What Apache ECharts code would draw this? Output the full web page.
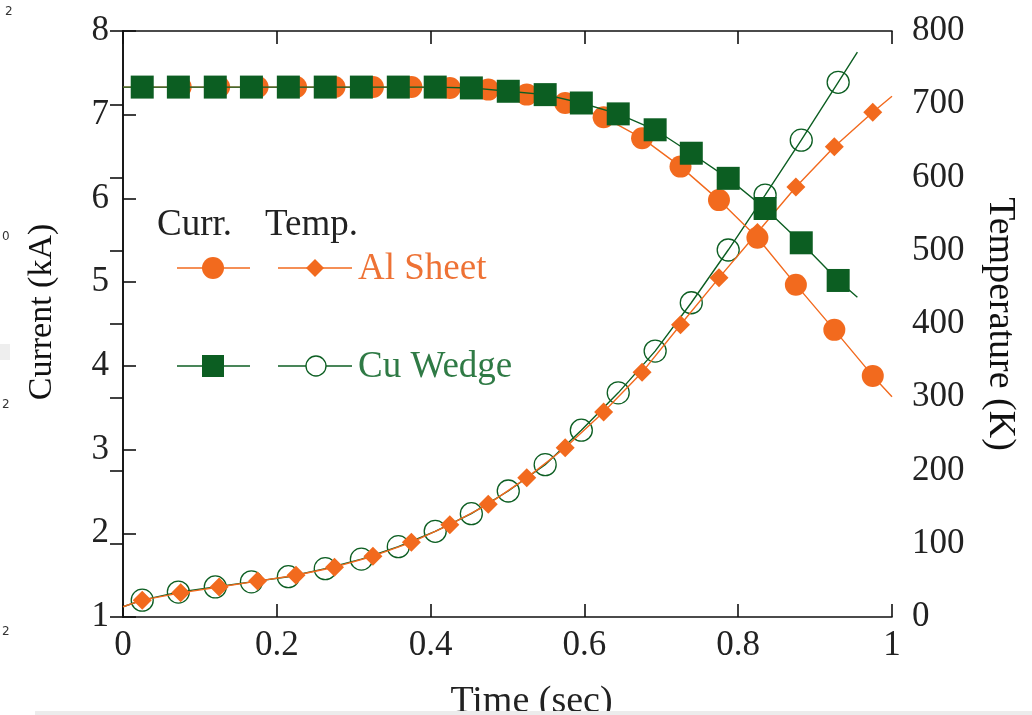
<!DOCTYPE html>
<html>
<head>
<meta charset="utf-8">
<script src="https://cdn.jsdelivr.net/npm/echarts@6/dist/echarts.min.js"></script>
<style>html,body{margin:0;padding:0;background:#fff;}#c{width:1032px;height:715px;}</style>
</head>
<body>
<div id="c"></div>
<script>
// ---- data ----
const alTime = [0.025,0.075,0.125,0.175,0.225,0.275,0.325,0.375,0.425,0.475,0.525,0.575,0.625,0.675,0.725,0.775,0.825,0.875,0.925,0.975];
const alCurrent = [7.33,7.33,7.33,7.33,7.33,7.33,7.33,7.33,7.32,7.30,7.24,7.14,6.97,6.72,6.38,5.98,5.53,4.97,4.43,3.88];
const alTemp = [23,33,41,49,57,68,83,102,126,154,190,231,280,334,399,463,525,587,642,689];
const alCurrentEnds = [[0,7.33],[1,3.63]];
const alTempEnds = [[0,14],[1,711]];

const cuTime = [0.025,0.072,0.12,0.167,0.215,0.263,0.31,0.358,0.406,0.453,0.501,0.549,0.596,0.644,0.692,0.739,0.787,0.835,0.882,0.93];
const cuCurrent = [7.33,7.33,7.33,7.33,7.33,7.33,7.33,7.33,7.33,7.32,7.28,7.24,7.14,7.01,6.82,6.54,6.24,5.88,5.47,5.02];
const cuTemp = [23,34,41,48,55,66,79,96,117,141,172,208,255,306,363,429,501,576,651,730];
const cuCurrentEnds = [[0,7.33],[0.955,4.82]];
const cuTempEnds = [[0,14],[0.955,771]];

const xTicks = {min:0, max:1, interval:0.2};
const yLeftTicks = {min:1, max:8, interval:1};
const yRightTicks = {min:0, max:800, interval:100};

const ORANGE = '#F26A1E';
const GREEN = '#0C5E22';
const SERIF = '"Liberation Serif","DejaVu Serif",serif';

function build(ts, vs, ends){
  const d = [{value: ends[0], symbol:'none'}];
  ts.forEach((t,i)=>d.push([t, vs[i]]));
  d.push({value: ends[1], symbol:'none'});
  return d;
}

const chart = echarts.init(document.getElementById('c'), null, {renderer:'canvas'});
const axisLineStyle = {color:'#111', width:1.6};
const labelStyle = {fontFamily:SERIF, fontSize:35, color:'#222'};

chart.setOption({
  animation:false,
  backgroundColor:'#fff',
  grid:{left:123, right:140, top:31, bottom:98, containLabel:false, outerBoundsMode:'none'},
  xAxis:[{
    type:'value', position:'bottom', min:xTicks.min, max:xTicks.max, interval:xTicks.interval,
    axisLine:{show:true, lineStyle:axisLineStyle},
    axisTick:{show:true, inside:true, length:13, lineStyle:axisLineStyle},
    axisLabel:{...labelStyle, margin:11},
    splitLine:{show:false},
    name:'Time (sec)', nameLocation:'middle', nameGap:66,
    nameTextStyle:{fontFamily:SERIF, fontSize:38, color:'#222', padding:[0,0,0,48]}
  },{
    type:'value', position:'top', min:xTicks.min, max:xTicks.max, interval:xTicks.interval,
    axisLine:{show:true, lineStyle:axisLineStyle},
    axisTick:{show:true, inside:true, length:13, lineStyle:axisLineStyle},
    axisLabel:{show:false}, splitLine:{show:false}
  }],
  yAxis:[{
    type:'value', position:'left', min:yLeftTicks.min, max:yLeftTicks.max, interval:yLeftTicks.interval,
    axisLine:{show:true, lineStyle:axisLineStyle},
    axisTick:{show:true, inside:true, length:13, lineStyle:axisLineStyle},
    axisLabel:{...labelStyle, margin:14},
    splitLine:{show:false},
    name:'Current (kA)', nameLocation:'middle', nameGap:64, nameRotate:90,
    nameTextStyle:{fontFamily:SERIF, fontSize:34, color:'#111', padding:[0,0,0,24]}
  },{
    type:'value', position:'right', min:yRightTicks.min, max:yRightTicks.max, interval:yRightTicks.interval,
    axisLine:{show:true, lineStyle:axisLineStyle},
    axisTick:{show:true, inside:true, length:13, lineStyle:axisLineStyle},
    axisLabel:{...labelStyle, margin:20},
    splitLine:{show:false},
    name:'Temperature (K)', nameLocation:'middle', nameGap:89, nameRotate:-90,
    nameTextStyle:{fontFamily:SERIF, fontSize:38, color:'#111'}
  }],
  series:[
    {name:'Cu Temp', type:'line', yAxisIndex:1, data:build(cuTime,cuTemp,cuTempEnds),
      symbol:'circle', symbolSize:22, showAllSymbol:true,
      lineStyle:{color:GREEN, width:1.4},
      itemStyle:{color:'rgba(255,255,255,0)', borderColor:GREEN, borderWidth:1.3}, z:2},
    {name:'Al Temp', type:'line', yAxisIndex:1, data:build(alTime,alTemp,alTempEnds),
      symbol:'diamond', symbolSize:[19,19], showAllSymbol:true,
      lineStyle:{color:ORANGE, width:1.4},
      itemStyle:{color:ORANGE}, z:3},
    {name:'Al Current', type:'line', yAxisIndex:0, data:build(alTime,alCurrent,alCurrentEnds),
      symbol:'circle', symbolSize:22, showAllSymbol:true,
      lineStyle:{color:ORANGE, width:1.4},
      itemStyle:{color:ORANGE}, z:4},
    {name:'Cu Current', type:'line', yAxisIndex:0, data:build(cuTime,cuCurrent,cuCurrentEnds),
      symbol:'rect', symbolSize:23, showAllSymbol:true,
      lineStyle:{color:GREEN, width:1.4},
      itemStyle:{color:GREEN}, z:5}
  ],
  graphic:[
    {type:'text', left:157, top:207, style:{text:'Curr.', font:'37px '+SERIF, fill:'#222'}},
    {type:'text', left:265, top:207, style:{text:'Temp.', font:'37px '+SERIF, fill:'#222'}},
    {type:'line', shape:{x1:177,y1:268,x2:250,y2:268}, style:{stroke:ORANGE, lineWidth:1.4}},
    {type:'circle', shape:{cx:213,cy:268,r:11}, style:{fill:ORANGE}},
    {type:'line', shape:{x1:278,y1:268,x2:352,y2:268}, style:{stroke:ORANGE, lineWidth:1.4}},
    {type:'polygon', shape:{points:[[315,259],[324,268],[315,277],[306,268]]}, style:{fill:ORANGE}},
    {type:'text', left:358, top:251, style:{text:'Al Sheet', font:'37px '+SERIF, fill:'#EE7235'}},
    {type:'line', shape:{x1:177,y1:366,x2:250,y2:366}, style:{stroke:GREEN, lineWidth:1.4}},
    {type:'rect', shape:{x:202,y:355,width:22,height:22}, style:{fill:GREEN}},
    {type:'line', shape:{x1:278,y1:366,x2:352,y2:366}, style:{stroke:GREEN, lineWidth:1.4}},
    {type:'circle', shape:{cx:316,cy:366,r:10}, style:{fill:'#fff', stroke:GREEN, lineWidth:1.3}},
    {type:'text', left:358, top:349, style:{text:'Cu Wedge', font:'37px '+SERIF, fill:'#2F7A45'}},
    {type:'text', left:5, top:6, style:{text:'2', font:'12px "DejaVu Sans",sans-serif', fill:'#333'}},
    {type:'text', left:2, top:231, style:{text:'0', font:'12px "DejaVu Sans",sans-serif', fill:'#333'}},
    {type:'text', left:2, top:399, style:{text:'2', font:'12px "DejaVu Sans",sans-serif', fill:'#333'}},
    {type:'text', left:2, top:626, style:{text:'2', font:'12px "DejaVu Sans",sans-serif', fill:'#333'}},
    {type:'rect', shape:{x:0,y:344,width:10,height:16}, style:{fill:'#eeeeee'}},
    {type:'rect', z:100, shape:{x:35,y:711,width:997,height:4}, style:{fill:'#ececec'}}
  ]
});
</script>
</body>
</html>
